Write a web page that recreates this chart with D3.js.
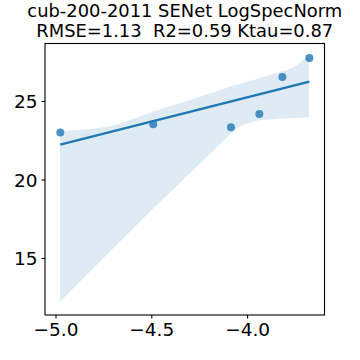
<!DOCTYPE html>
<html>
<head>
<meta charset="utf-8">
<script src="https://cdn.jsdelivr.net/npm/d3@7"></script>
<style>
  body { margin: 0; background: #fff; }
  text { font-family: "DejaVu Sans", sans-serif; fill: #000; }
</style>
</head>
<body>
<div id="chart"></div>
<script>
// scatter points
var pointX = [-4.975, -4.49, -4.084, -3.936, -3.816, -3.675];
var pointY = [23.0, 23.52, 23.32, 24.17, 26.53, 27.74];

// fitted line ends
var lineX = [-4.975, -3.675];
var lineY = [22.22, 26.23];

// confidence band, upper and lower edges
var bandUpX = [-4.977, -4.731, -4.491, -4.298, -4.089, -3.880, -3.740, -3.677];
var bandUpY = [23.09, 23.36, 24.32, 25.06, 25.91, 26.66, 27.29, 27.93];
var bandLoX = [-4.977, -4.507, -4.074, -4.027, -3.985, -3.948, -3.828, -3.677];
var bandLoY = [12.22, 17.95, 23.04, 23.47, 23.62, 23.75, 23.87, 23.96];

var xTicks = [-5.0, -4.5, -4.0];
var yTicks = [15, 20, 25];
var titleLines = ['cub-200-2011 SENet LogSpecNorm', 'RMSE=1.13  R2=0.59 Ktau=0.87'];

var width = 360, height = 360;
var mLeft = 45, mRight = 324.5, mTop = 43.5, mBottom = 315;

var svg = d3.select('#chart')
    .append('svg')
        .attr('width', width)
        .attr('height', height);

var x = d3.scaleLinear().domain([-5.0548, -3.596]).range([mLeft, mRight]);
var y = d3.scaleLinear().domain([11.37, 28.66]).range([mBottom, mTop]);

// band: upper edge then lower edge reversed
var upPts = bandUpX.map(function (v, i) { return [x(v), y(bandUpY[i])]; });
var loPts = bandLoX.map(function (v, i) { return [x(v), y(bandLoY[i])]; }).reverse();
svg.append('path')
    .attr('d', d3.line().curve(d3.curveMonotoneX)(upPts) + 'L' +
        d3.line().curve(d3.curveLinear)(loPts).slice(1) + 'Z')
    .attr('fill', '#1f77b4')
    .attr('fill-opacity', 0.15);

svg.selectAll('circle.pt')
    .data(pointX)
    .enter()
    .append('circle')
        .attr('class', 'pt')
        .attr('cx', function (d) { return x(d); })
        .attr('cy', function (d, i) { return y(pointY[i]); })
        .attr('r', 4)
        .attr('fill', '#1f77b4')
        .attr('fill-opacity', 0.8);

svg.append('line')
    .attr('x1', x(lineX[0])).attr('y1', y(lineY[0]))
    .attr('x2', x(lineX[1])).attr('y2', y(lineY[1]))
    .attr('stroke', '#1f77b4')
    .attr('stroke-width', 2.5);

// frame
svg.append('rect')
    .attr('x', mLeft).attr('y', mTop)
    .attr('width', mRight - mLeft).attr('height', mBottom - mTop)
    .attr('fill', 'none')
    .attr('stroke', '#000')
    .attr('stroke-width', 1.1);

var xAxis = svg.append('g')
    .attr('transform', 'translate(0,' + mBottom + ')')
    .call(d3.axisBottom(x).tickValues(xTicks).tickSize(3.5).tickPadding(4)
        .tickFormat(function (d) { return d3.format('.1f')(d).replace('-', '\u2212'); }));
var yAxis = svg.append('g')
    .attr('transform', 'translate(' + mLeft + ',0)')
    .call(d3.axisLeft(y).tickValues(yTicks).tickSize(3.5).tickPadding(4));

[xAxis, yAxis].forEach(function (g) {
    g.select('.domain').remove();
    g.selectAll('.tick line').attr('stroke', '#000').attr('stroke-width', 1.1);
    g.selectAll('.tick text')
        .style('font-family', '"DejaVu Sans", sans-serif')
        .style('font-size', '18.5px')
        .attr('fill', '#000');
});
yAxis.selectAll('.tick text').attr('dy', '0.36em');

svg.selectAll('text.title')
    .data(titleLines)
    .enter()
    .append('text')
        .attr('class', 'title')
        .attr('x', (mLeft + mRight) / 2)
        .attr('y', function (d, i) { return 16.7 + i * 19.8; })
        .attr('text-anchor', 'middle')
        .style('font-size', '17.9px')
        .style('white-space', 'pre')
        .text(function (d) { return d; });
</script>
</body>
</html>
